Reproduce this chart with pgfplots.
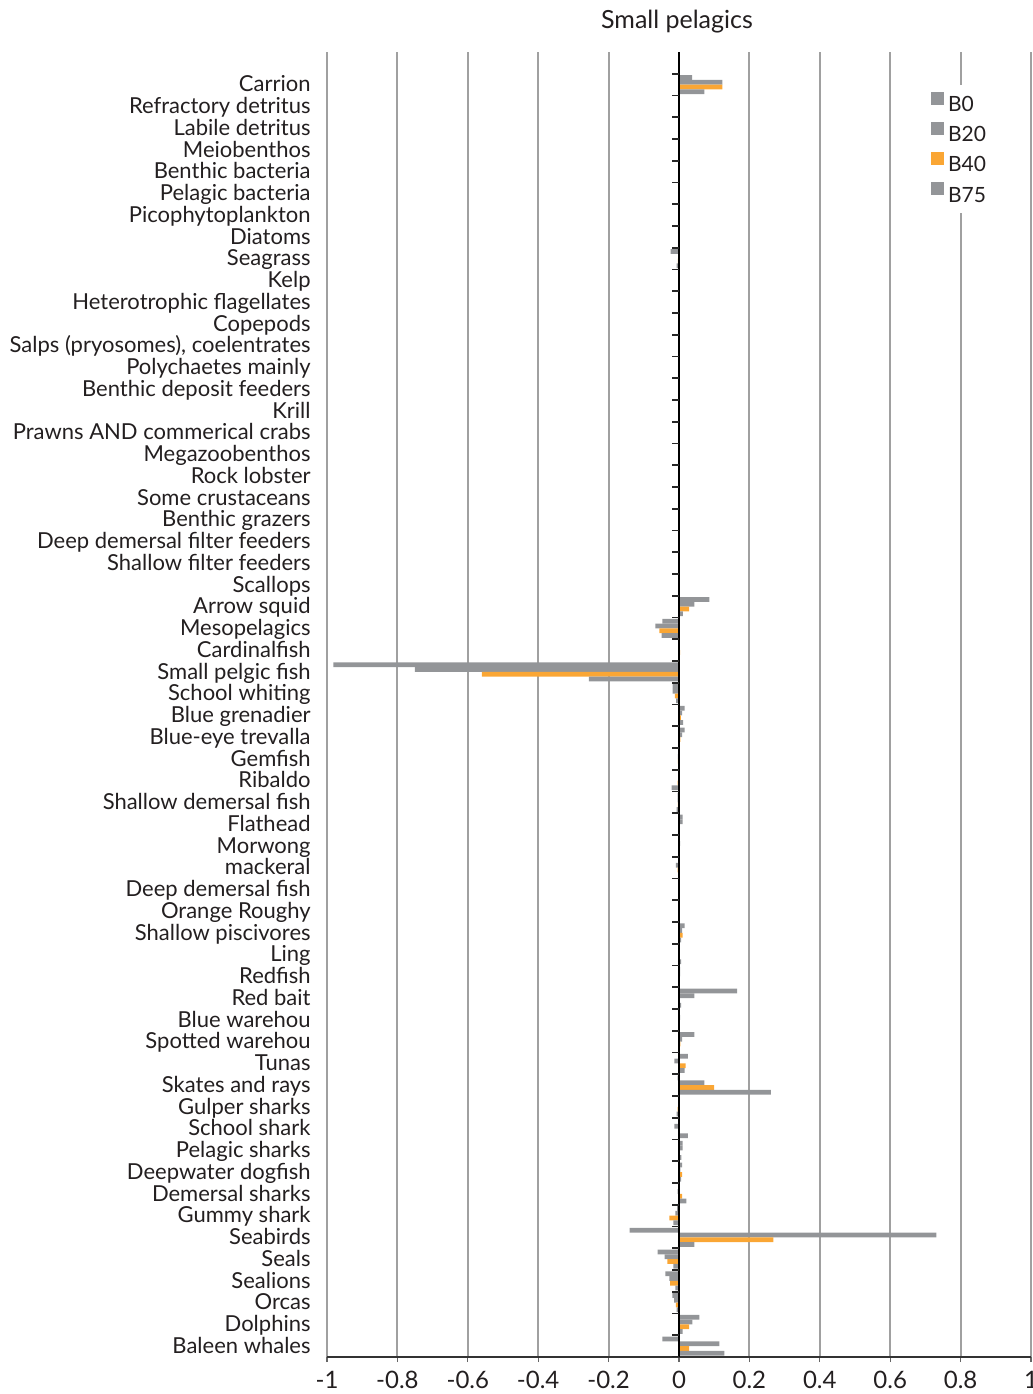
\documentclass[border=0pt]{standalone}
\usepackage{fontspec}
\setmainfont{Lato}
\usepackage{pgfplots}
\pgfplotsset{compat=1.18}
\usepackage{pgfplotstable}

\definecolor{bargray}{RGB}{147,149,152}
\definecolor{barorange}{RGB}{250,166,52}
\definecolor{gridgray}{RGB}{160,160,160}
\definecolor{txt}{RGB}{35,31,32}

\pgfplotsset{sq legend/.style={legend image code/.code={\fill[##1] (0pt,0pt) rectangle (6.5pt,6.5pt);}}}

\pgfplotstableread{
y b0 b20 b40 b75
58 0.037 0.123 0.123 0.072
57 0 0 0 0
56 0 0 0 0
55 0 0 0 0
54 0 0 0 0
53 0 0 0 0
52 0 0 0 0
51 0 0 0 0
50 -0.024 0 -0.003 -0.007
49 0 0 0 0
48 0 0 0 0
47 0 0 0 0
46 0 0 0 0
45 0 0 0 0
44 0 0 0 0
43 0 0 0 0
42 0 0 0 0
41 0 0 0 0
40 0 0 0 0
39 0 0 0 0
38 0 0 0 0
37 0 0 0 0
36 0 0 0 0
35 0 0 0 0
34 0.086 0.044 0.029 0.011
33 -0.047 -0.067 -0.056 -0.049
32 0 0 0.003 0
31 -0.982 -0.750 -0.560 -0.256
30 -0.018 -0.018 -0.012 -0.008
29 0.016 0.009 0.005 0.012
28 0.016 0.009 0.004 0.002
27 0 -0.003 -0.003 0
26 0 0 -0.004 -0.021
25 -0.004 -0.004 -0.003 -0.007
24 0.010 0.010 0.002 0
23 0.002 0.003 0 0
22 -0.002 -0.009 -0.004 0
21 0 0 0 0
20 0 0 0 0
19 0.016 0.009 0.010 0.006
18 0.002 0 0 0.006
17 0.003 0.003 0 0
16 0.165 0.044 0.001 0.006
15 0.002 0.003 0 0.001
14 0.044 0.009 0.004 0
13 0.025 -0.013 0.019 0.016
12 -0.004 0.072 0.100 0.261
11 0.002 0 -0.004 -0.007
10 0 -0.013 0.002 0.025
9 0.010 0.010 0.002 0.007
8 0.009 0.004 0.009 0.006
7 0 -0.004 0.009 0.021
6 -0.005 -0.010 -0.027 -0.016
5 -0.140 0.731 0.268 0.044
4 -0.061 -0.041 -0.033 -0.016
3 -0.039 -0.027 -0.025 -0.010
2 -0.019 -0.014 -0.009 -0.007
1 0.058 0.038 0.029 0.010
0 -0.047 0.115 0.029 0.129
}\data

\begin{document}
\begin{tikzpicture}
\useasboundingbox (-163.5pt,-18.5pt) rectangle (353pt,678.5pt);
\begin{axis}[
  scale only axis, width=352pt, height=652.5pt,
  xmin=-1, xmax=1, ymin=-0.5, ymax=59.5,
  xbar, bar width=0.22,
  axis x line*=bottom, axis y line*=left,
  x axis line style={-, draw=black!80, line width=0.8pt},
  y axis line style={draw=none},
  xtick={-1,-0.8,-0.6,-0.4,-0.2,0,0.2,0.4,0.6,0.8,1},
  xticklabels={-1,-0.8,-0.6,-0.4,-0.2,0,0.2,0.4,0.6,0.8,1},
  xmajorgrids, grid style={gridgray, line width=1pt},
  tick align=outside, major tick length=2.5pt,
  xtick style={draw=black!60, line width=0.6pt},
  ytick style={draw=none},
  ytick={0,...,58},
  yticklabels={Baleen whales, Dolphins, Orcas, Sealions, Seals, Seabirds, Gummy shark, Demersal sharks, Deepwater dogfish, Pelagic sharks, School shark, Gulper sharks, Skates and rays, Tunas, Spotted warehou, Blue warehou, Red bait, Redfish, Ling, Shallow piscivores, Orange Roughy, Deep demersal fish, mackeral, Morwong, Flathead, Shallow demersal fish, Ribaldo, Gemfish, Blue-eye trevalla, Blue grenadier, School whiting, Small pelgic fish, Cardinalfish, Mesopelagics, Arrow squid, Scallops, Shallow filter feeders, Deep demersal filter feeders, Benthic grazers, Some crustaceans, Rock lobster, Megazoobenthos, Prawns AND commerical crabs, Krill, Benthic deposit feeders, Polychaetes mainly, {Salps (pryosomes), coelentrates}, Copepods, Heterotrophic flagellates, Kelp, Seagrass, Diatoms, Picophytoplankton, Pelagic bacteria, Benthic bacteria, Meiobenthos, Labile detritus, Refractory detritus, Carrion},
  yticklabel style={font=\fontsize{11}{12}\selectfont, text=txt, anchor=base east, inner sep=0pt, xshift=-5.5pt, yshift=-3.6pt},
  xticklabel style={font=\fontsize{12}{13}\selectfont, text=txt, anchor=base, inner sep=0pt, yshift=-13pt},
  legend style={at={(0.849,0.975)}, anchor=north west, draw=none, fill=white,
    font=\fontsize{10.5}{12}\selectfont, text=txt, inner xsep=3pt, inner ysep=3.25pt, row sep=3.1pt,
    nodes={inner sep=2pt, text height=7pt, text depth=0pt}},
  legend cell align=left,
]
\addplot[xbar, fill=bargray, draw=none, bar shift=0.33, sq legend] table[x=b0, y=y]{\data};
\addplot[xbar, fill=bargray, draw=none, bar shift=0.11, sq legend] table[x=b20, y=y]{\data};
\addplot[xbar, fill=barorange, draw=none, bar shift=-0.11, sq legend] table[x=b40, y=y]{\data};
\addplot[xbar, fill=bargray, draw=none, bar shift=-0.33, sq legend] table[x=b75, y=y]{\data};
\legend{B0,B20,B40,B75}
\draw[black, line width=1pt] (axis cs:0,-0.5) -- (axis cs:0,59.5);
\pgfplotsinvokeforeach{-0.5,0.5,...,58.5}{\draw[black!85, line width=0.8pt] (axis cs:0,#1) -- ++(-3.5pt,0pt);}
\end{axis}
\node[font=\fontsize{12.5}{14}\selectfont, text=txt] at (175pt,667.5pt) {Small pelagics};
\end{tikzpicture}
\end{document}
